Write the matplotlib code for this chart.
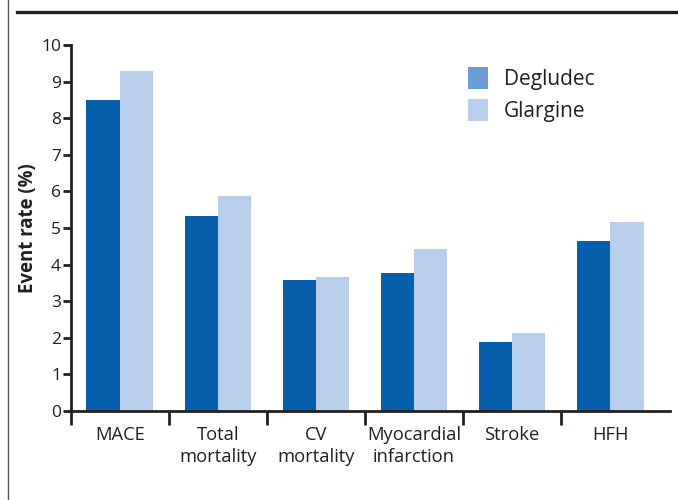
import numpy as np
import matplotlib.pyplot as plt
from matplotlib.lines import Line2D
from matplotlib.patches import Patch

plt.rcParams['font.family'] = ['Open Sans', 'DejaVu Sans']

# data
categories = ["MACE", "Total\nmortality", "CV\nmortality", "Myocardial\ninfarction", "Stroke", "HFH"]
degludec = [8.5, 5.33, 3.59, 3.78, 1.88, 4.65]
glargine = [9.29, 5.87, 3.67, 4.43, 2.12, 5.16]

dark = "#075fab"
light = "#b9ceea"
ink = "#231f20"

fig = plt.figure(figsize=(6.78, 5), dpi=100)
ax = fig.add_axes([0.1043, 0.178, 0.884, 0.732])

x = np.arange(len(categories))
w = 0.34
ax.bar(x - w / 2, degludec, w, color=dark, linewidth=0)
ax.bar(x + w / 2, glargine, w, color=light, linewidth=0)

ax.set_xlim(-0.5, 5.61)
ax.set_ylim(0, 10)
ax.set_yticks(range(0, 11))
ax.tick_params(axis='y', length=6, width=2, color=ink, labelsize=12.5, labelcolor=ink, pad=1)

# separators as major ticks, labels on minor ticks
ax.set_xticks(np.arange(-0.5, 5.0, 1.0))
ax.set_xticklabels([])
ax.tick_params(axis='x', which='major', length=10, width=2, color=ink)
ax.set_xticks(x, minor=True)
ax.set_xticklabels(categories, minor=True, linespacing=1.3)
ax.tick_params(axis='x', which='minor', length=0, labelsize=13.2, labelcolor=ink, pad=11)

for s in ["top", "right"]:
    ax.spines[s].set_visible(False)
for s in ["left", "bottom"]:
    ax.spines[s].set_linewidth(2)
    ax.spines[s].set_color(ink)

ax.set_ylabel("Event rate (%)", fontsize=13.4, fontweight='bold', color=ink, labelpad=2)

handles = [Patch(facecolor="#6b9ed6", edgecolor='none', label="Degludec"),
           Patch(facecolor=light, edgecolor='none', label="Glargine")]
ax.legend(handles=handles, loc='upper left', bbox_to_anchor=(0.631, 0.99), frameon=False,
          fontsize=15, handlelength=1.0, handleheight=1.2, handletextpad=0.75, labelspacing=0.45,
          labelcolor=ink)

# page decoration: top rule and left border
fig.add_artist(Line2D([17 / 678, 1], [1 - 12 / 500, 1 - 12 / 500], color=ink, linewidth=2.4))
fig.add_artist(Line2D([7.5 / 678, 7.5 / 678], [0, 1], color="#555555", linewidth=1))

fig.savefig("out.png", dpi=100)
